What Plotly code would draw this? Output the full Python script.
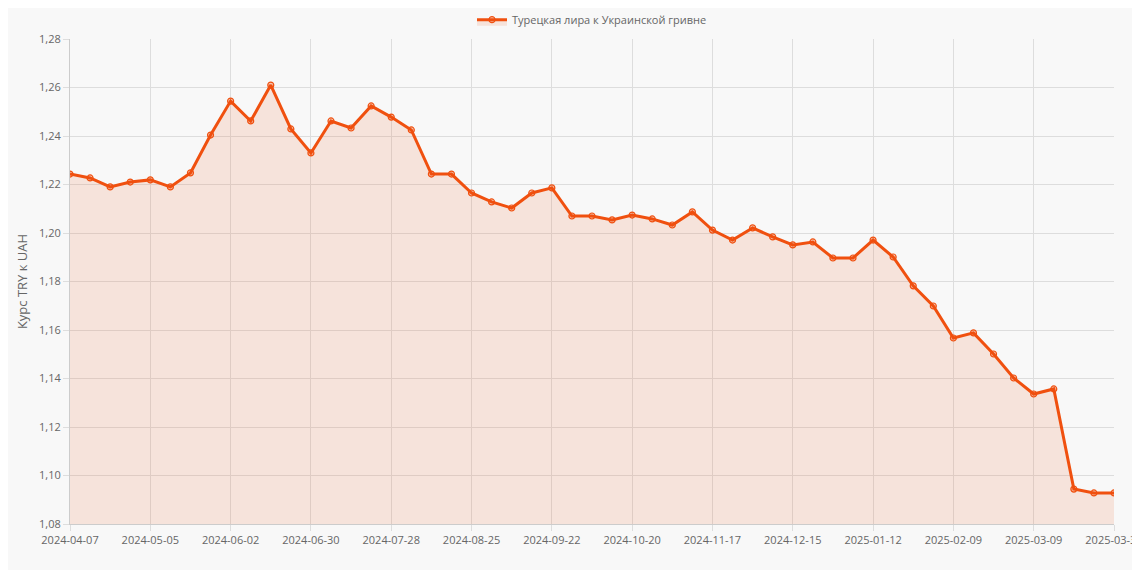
import pandas as pd
import plotly.graph_objects as go

dates = [d.strftime("%Y-%m-%d") for d in pd.date_range("2024-04-07", periods=52, freq="7D")] + ["2025-03-31"]
dates[51] = "2025-03-30"
values = [1.2243, 1.2227, 1.219, 1.221, 1.2219, 1.219, 1.2248, 1.2404, 1.2544, 1.2462,
          1.261, 1.2429, 1.233, 1.2462, 1.2433, 1.2524, 1.2478, 1.2425, 1.2243, 1.2243,
          1.2165, 1.2128, 1.2103, 1.2165, 1.2186, 1.207, 1.207, 1.2054, 1.2074, 1.2058,
          1.2033, 1.2087, 1.2012, 1.1971, 1.2021, 1.1984, 1.1951, 1.1963, 1.1897, 1.1897,
          1.1971, 1.1901, 1.1782, 1.1699, 1.1567, 1.1588, 1.1501, 1.1402, 1.1336, 1.1357,
          1.0944, 1.0928, 1.0928]
tick_labels = dates[0:49:4] + [dates[-1]]
y_ticks = [1.08 + 0.02 * i for i in range(11)]

fig = go.Figure(go.Scatter(
    x=dates, y=values, mode="lines+markers", name="Турецкая лира к Украинской гривне",
    line=dict(color="#f0500f", width=3),
    marker=dict(size=6, color="rgba(240,80,15,0.3)", line=dict(color="#f0500f", width=1.2)),
    fill="tozeroy", fillcolor="rgba(240,80,15,0.12)"))
fig.update_layout(
    width=1140, height=570, paper_bgcolor="#f8f8f8", plot_bgcolor="#f8f8f8",
    margin=dict(l=62, r=34, t=31, b=54, autoexpand=False),
    font=dict(family="Open Sans, DejaVu Sans", size=11, color="#666"),
    showlegend=True,
    legend=dict(orientation="h", x=0.5, xanchor="center", y=1.01, yanchor="bottom", font=dict(size=11)),
    xaxis=dict(type="category", tickvals=tick_labels, ticktext=tick_labels, showgrid=True,
               gridcolor="#ddd", linecolor="#ccc", ticks="outside", ticklen=6, tickcolor="#ddd",
               range=[0, len(dates) - 1]),
    yaxis=dict(range=[1.08, 1.28], tickvals=y_ticks, ticktext=[f"{v:.2f}".replace(".", ",") for v in y_ticks],
               gridcolor="#ddd", linecolor="#ccc", ticks="outside", ticklen=6, tickcolor="#ddd",
               zeroline=False, title=dict(text="Курс TRY к UAH", font=dict(size=13), standoff=8)),
)
fig.write_html("out.html")
